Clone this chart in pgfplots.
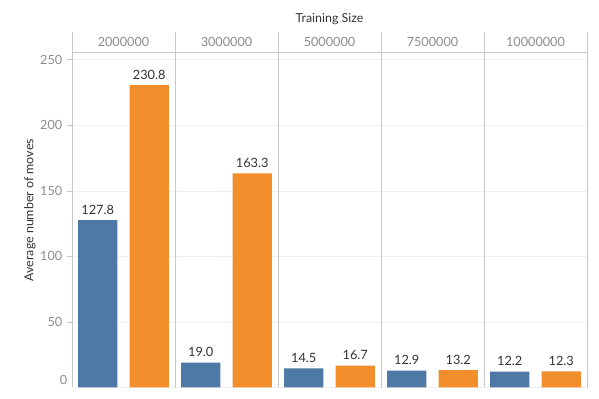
\documentclass[border=0pt]{standalone}
\usepackage{fontspec}
\setmainfont{Lato}
\usepackage{pgfplots}
\pgfplotsset{compat=1.18}
\definecolor{tblue}{HTML}{4E79A7}
\definecolor{torange}{HTML}{F28E2B}
\definecolor{framec}{HTML}{C8C8C8}
\definecolor{gridc}{HTML}{EFEFEF}
\definecolor{ticktext}{HTML}{8C8C8C}
\definecolor{darktext}{HTML}{333333}
\begin{document}
\begin{tikzpicture}[x=1pt,y=1pt]
\useasboundingbox (-54,-8.625) rectangle (395.25,290.625);
\begin{axis}[
  at={(0,0)}, anchor=south west,
  scale only axis, width=386.25pt, height=251.625pt,
  xmin=-0.5, xmax=4.5, ymin=0, ymax=256,
  axis line style={framec, line width=0.6pt},
  xtick=\empty,
  ytick={50,100,...,250},
  extra y ticks={0},
  extra y tick style={yticklabel style={yshift=5.5pt}, major tick length=0pt},
  ymajorgrids, grid style={gridc, line width=0.6pt},
  tick style={framec, line width=0.6pt}, major tick length=3.75pt, tick align=outside, ytick pos=left,
  yticklabel style={ticktext, font=\fontsize{9.5}{10}\selectfont},
  /pgf/number format/assume math mode=true,
  ybar, bar width=0.38, bar shift=0pt,
  nodes near coords={\pgfmathprintnumber[fixed,fixed zerofill,precision=1]{\pgfplotspointmeta}},
  every node near coord/.append style={darktext, font=\fontsize{9.6}{10}\selectfont, inner sep=4pt},
]
\addplot[fill=tblue, draw=none] coordinates {(-0.25,127.8) (0.75,19.0) (1.75,14.5) (2.75,12.9) (3.75,12.2)};
\addplot[fill=torange, draw=none] coordinates {(0.25,230.8) (1.25,163.3) (2.25,16.7) (3.25,13.2) (4.25,12.3)};
\end{axis}
% panel separators and header
\foreach \xx in {0,77.25,154.5,231.75,309,386.25} {
  \draw[framec, line width=0.6pt] (\xx,0) -- (\xx,266.625);
}
\draw[framec, line width=0.6pt] (0,251.625) -- (386.25,251.625);
\foreach \lab [count=\i from 0] in {2000000,3000000,5000000,7500000,10000000} {
  \node[ticktext, font=\fontsize{9.5}{10}\selectfont] at (38.625+77.25*\i,259.4) {\lab};
}
\node[darktext, font=\fontsize{9.3}{10}\selectfont] at (193.125,276) {Training Size};
\node[darktext, font=\fontsize{9.3}{10}\selectfont, rotate=90] at (-31.5,133) {Average number of moves};
\end{tikzpicture}
\end{document}
